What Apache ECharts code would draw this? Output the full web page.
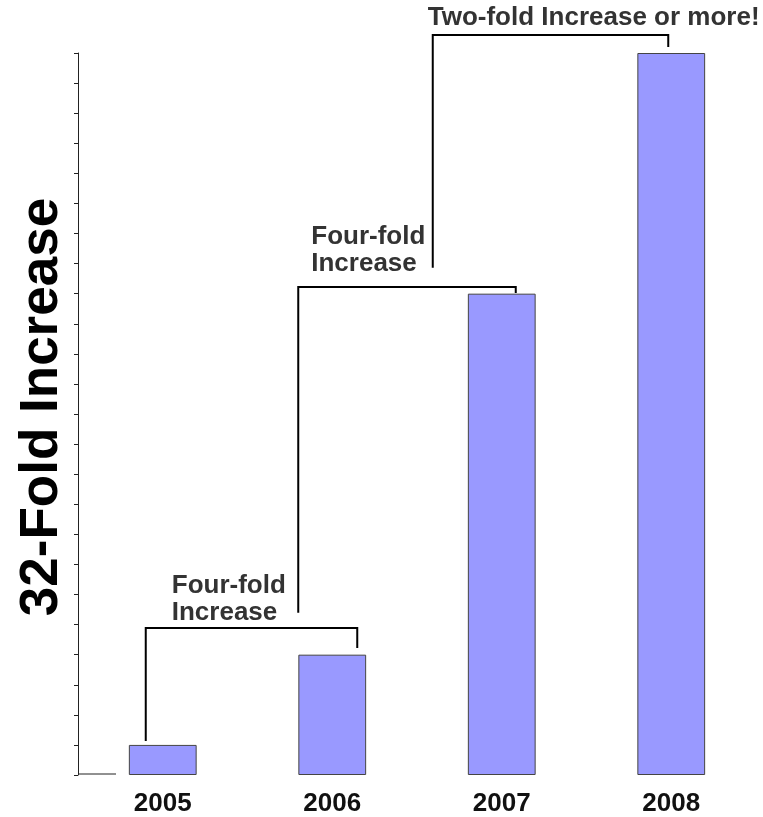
<!DOCTYPE html>
<html>
<head>
<meta charset="utf-8">
<style>
  html, body { margin: 0; padding: 0; background: #fff; }
  #chart { width: 763px; height: 817px; }
</style>
<script src="https://cdn.jsdelivr.net/npm/echarts@6/dist/echarts.min.js"></script>
</head>
<body>
<div id="chart"></div>
<script>
// Yearly growth, in multiples of the 2005 level
const years = ['2005', '2006', '2007', '2008'];
const growth = [1, 4, 16, 24];

// Value axis: 0..24 with a tick at every unit
const axisMin = 0;
const axisMax = 24;
const axisStep = 1;

// Bracket annotations between consecutive years
const bracketFrom = [0, 1, 2];
const bracketTo = [1, 2, 3];
const bracketLabels = ['Four-fold\nIncrease', 'Four-fold\nIncrease', 'Two-fold Increase or more!'];

const sideTitle = '32-Fold Increase';

// Bracket drawing layout: leg heights in axis units, horizontal nudges in px
const bracketLayout = [
  { yLeft: 1.13, yTop: 4.89, yRight: 4.22, dxL: -17, dxR: 25, labelDx: 26, labelDy: -56 },
  { yLeft: 5.39, yTop: 16.22, yRight: 16.02, dxL: -34, dxR: 14, labelDx: 13, labelDy: -64 },
  { yLeft: 16.86, yTop: 24.6, yRight: 24.2, dxL: -69, dxR: -3, labelDx: -5, labelDy: -31 }
];

const FONT = '"Liberation Sans", Arial, sans-serif';
const gridLeft = 78, gridRight = 7, gridTop = 53, gridBottom = 42;
const W = 763, H = 817;

const chart = echarts.init(document.getElementById('chart'), null, { renderer: 'canvas' });

const option = {
  animation: false,
  backgroundColor: '#ffffff',
  grid: { left: gridLeft, right: gridRight, top: gridTop, bottom: gridBottom, containLabel: false },
  xAxis: {
    type: 'category',
    data: years,
    axisLine: { show: false },
    axisTick: { show: false },
    axisLabel: {
      color: '#111',
      fontFamily: FONT,
      fontWeight: 'bold',
      fontSize: 26,
      margin: 16
    }
  },
  yAxis: {
    type: 'value',
    min: axisMin,
    max: axisMax,
    interval: axisStep,
    axisLine: { show: true, lineStyle: { color: '#222', width: 1 } },
    axisTick: { show: true, inside: false, length: 4, lineStyle: { color: '#222', width: 1 } },
    axisLabel: { show: false },
    splitLine: { show: false }
  },
  series: [
    {
      type: 'bar',
      data: growth,
      barWidth: '40%',
      itemStyle: { color: '#9999FF', borderColor: '#444', borderWidth: 1 },
      silent: true
    },
    {
      type: 'custom',
      silent: true,
      clip: false,
      z: 10,
      data: bracketFrom.map((f, i) => [f, bracketTo[i], i]),
      renderItem: function (params, api) {
        const i = params.dataIndex;
        const g = bracketLayout[i];
        const pL = api.coord([bracketFrom[i], g.yLeft]);
        const pT = api.coord([bracketFrom[i], g.yTop]);
        const pR = api.coord([bracketTo[i], g.yRight]);
        const xL = pL[0] + g.dxL;
        const xR = pR[0] + g.dxR;
        return {
          type: 'group',
          children: [
            {
              type: 'polyline',
              shape: { points: [[xL, pL[1]], [xL, pT[1]], [xR, pT[1]], [xR, pR[1]]] },
              style: { stroke: '#000', lineWidth: 2, fill: null }
            },
            {
              type: 'text',
              style: {
                text: bracketLabels[i],
                x: xL + g.labelDx,
                y: pT[1] + g.labelDy,
                fill: '#333',
                font: 'bold 26px ' + FONT,
                lineHeight: 27,
                align: 'left',
                verticalAlign: 'top'
              }
            }
          ]
        };
      }
    }
  ],
  graphic: [
    {
      // short baseline stub at the foot of the value axis
      type: 'line',
      shape: { x1: gridLeft, y1: H - gridBottom - 1, x2: gridLeft + 38, y2: H - gridBottom - 1 },
      style: { stroke: '#222', lineWidth: 1 },
      silent: true
    },
    {
      type: 'text',
      x: 42,
      y: 407,
      rotation: Math.PI / 2,
      style: {
        text: sideTitle,
        fill: '#000',
        font: 'bold 53px ' + FONT,
        align: 'center',
        verticalAlign: 'middle'
      },
      silent: true
    }
  ]
};

chart.setOption(option);
</script>
</body>
</html>
